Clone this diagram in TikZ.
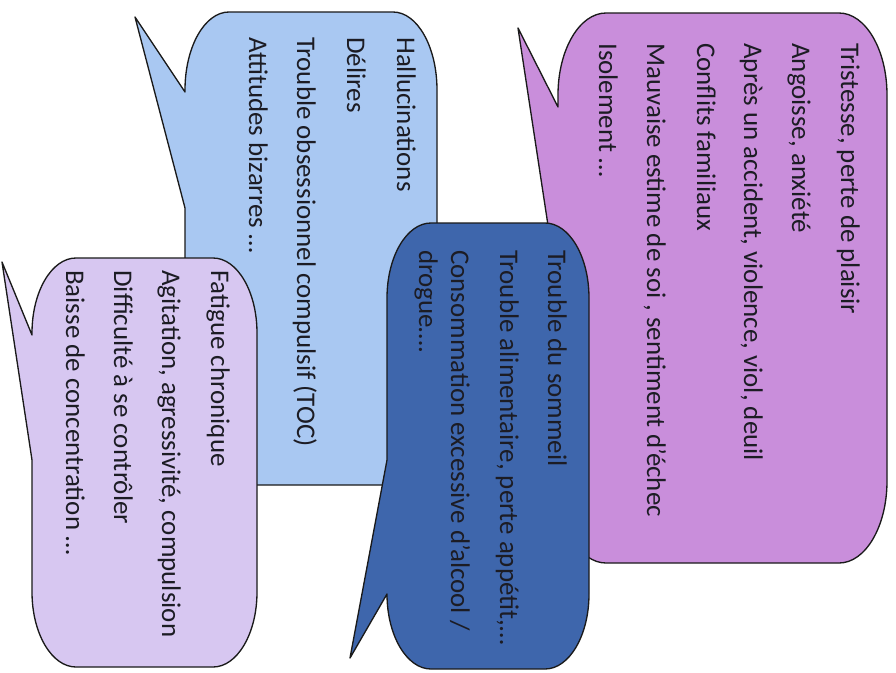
\documentclass[tikz,border=0pt]{standalone}
\usepackage{fontspec}
\setmainfont{Carlito}
\definecolor{cpurple}{HTML}{C98EDB}
\definecolor{clblue}{HTML}{A9C8F2}
\definecolor{clilac}{HTML}{D7C7F1}
\definecolor{cdblue}{HTML}{3E66AC}
\definecolor{ctext}{HTML}{1C1C24}
\definecolor{cline}{HTML}{1A1A1A}
\tikzset{
  bubble/.style={draw=cline, line width=1pt, line join=round},
  txt/.style={rotate=-90, anchor=base west, inner sep=0pt, text=ctext,
    font=\fontsize{20.2}{24}\selectfont}
}
\begin{document}
\begin{tikzpicture}[x=0.75pt, y=-0.75pt]
\useasboundingbox (0,0) rectangle (896,672);
\fill[white] (0,0) rectangle (896,672);
% purple bubble
\path[bubble, fill=cpurple] (518,28) -- (558,107) -- (558,95)
  .. controls (558,49.7) and (579.5,13) .. (606,13) -- (839,13)
  .. controls (865.5,13) and (887,49.7) .. (887,95) -- (887,481)
  .. controls (887,526.3) and (865.5,563) .. (839,563) -- (606,563)
  .. controls (579.5,563) and (558,526.3) .. (558,481) -- (558,291) -- cycle;
% light blue bubble
\path[bubble, fill=clblue] (135,17) -- (185,92) -- (185,90)
  .. controls (185,46.9) and (204.7,12) .. (229,12) -- (393,12)
  .. controls (417.3,12) and (437,46.9) .. (437,90) -- (437,407)
  .. controls (437,450.1) and (417.3,485) .. (393,485) -- (229,485)
  .. controls (204.7,485) and (185,450.1) .. (185,407) -- (185,208) -- cycle;
% lilac bubble
\path[bubble, fill=clilac] (2,262) -- (32,335) -- (32,333)
  .. controls (32,291.6) and (51.7,258) .. (76,258) -- (213,258)
  .. controls (237.3,258) and (257,291.6) .. (257,333) -- (257,592)
  .. controls (257,633.4) and (237.3,667) .. (213,667) -- (76,667)
  .. controls (51.7,667) and (32,633.4) .. (32,592) -- (32,460) -- cycle;
% dark blue bubble
\path[bubble, fill=cdblue] (350,658) -- (387,460) -- (387,298)
  .. controls (387,256.6) and (406.7,223) .. (431,223) -- (545,223)
  .. controls (569.3,223) and (589,256.6) .. (589,298) -- (589,594)
  .. controls (589,635.4) and (569.3,669) .. (545,669) -- (431,669)
  .. controls (406.7,669) and (387,635.4) .. (387,594) -- cycle;
% purple texts
\node[txt] (p1) at (841,43) {Tristesse, perte de plaisir};
\node[txt] (p2) at (792,43) {Angoisse, anxiété};
\node[txt] (p3) at (744,43) {Après un accident, violence, viol, deuil};
\node[txt] (p4) at (697,43) {Conflits familiaux};
\node[txt] (p5) at (647,43) {Mauvaise estime de soi , sentiment d’échec};
\node[txt] (p6) at (599,43) {Isolement …};
% light blue texts
\node[txt] (b1) at (397,37) {Hallucinations};
\node[txt] (b2) at (347,37) {Délires};
\node[txt] (b3) at (297,37) {Trouble obsessionnel compulsif (TOC)};
\node[txt] (b4) at (249,37) {Attitudes bizarres …};
% lilac texts
\node[txt] (l1) at (211,270) {Fatigue chronique};
\node[txt] (l2) at (162,270) {Agitation, agressivité, compulsion};
\node[txt] (l3) at (114,270) {Difficulté à se contrôler};
\node[txt] (l4) at (66,270) {Baisse de concentration …};
% dark blue texts
\node[txt] (d1) at (548,250) {Trouble du sommeil};
\node[txt] (d2) at (500,250) {Trouble alimentaire, perte appétit,…};
\node[txt] (d3) at (451,250) {Consommation excessive d’alcool /};
\node[txt] (d4) at (419,250) {drogue….};
\end{tikzpicture}
\end{document}
